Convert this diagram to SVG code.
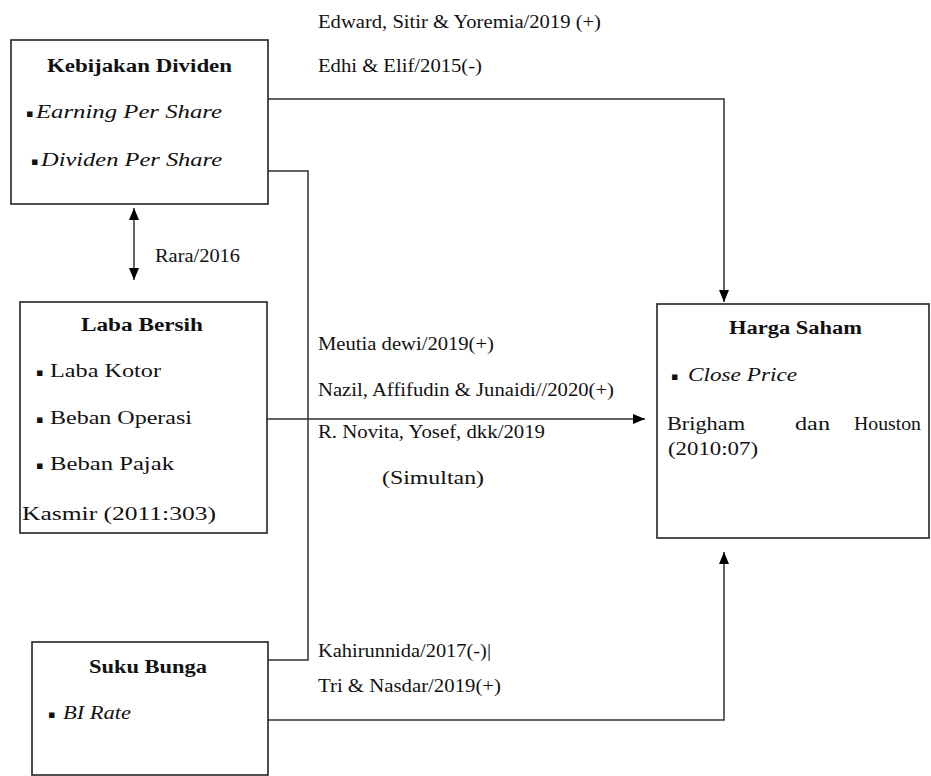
<svg xmlns="http://www.w3.org/2000/svg" width="931" height="776" viewBox="0 0 931 776">
<defs>
<marker id="ah" viewBox="0 0 12 10" refX="12" refY="5" markerWidth="12" markerHeight="10" markerUnits="userSpaceOnUse" orient="auto-start-reverse">
<path d="M0,0 L12,5 L0,10 Z" fill="#000"/>
</marker>
</defs>
<style>
.box{fill:#fff;stroke:#222;stroke-width:1.6}
.t{font-family:"Liberation Serif","Times New Roman",serif;font-size:18px;fill:#111}
.big{font-size:19px}
.b{font-weight:bold}
.i{font-style:italic}
.bul{font-family:"DejaVu Sans",sans-serif;font-size:11px;fill:#111}
.c{fill:none;stroke:#333;stroke-width:1.5}
</style>
<rect width="931" height="776" fill="#fff"/>
<g id="connectors">
<path class="c" d="M268,99 H724 V302" marker-end="url(#ah)"/>
<path class="c" d="M268,171 H308 V660 H268"/>
<path class="c" d="M267,419 H645" marker-end="url(#ah)"/>
<path class="c" d="M268,720 H724 V552" marker-end="url(#ah)"/>
<path class="c" d="M134,208 V280" marker-start="url(#ah)" marker-end="url(#ah)"/>
</g>
<g id="kebijakan-dividen">
<rect class="box" x="11" y="40" width="257" height="164"/>
<text class="t b" x="47" y="72" textLength="185" lengthAdjust="spacingAndGlyphs">Kebijakan Dividen</text>
<text class="bul" x="26" y="117">▪</text>
<text class="t i" x="36" y="118" textLength="186" lengthAdjust="spacingAndGlyphs">Earning Per Share</text>
<text class="bul" x="31" y="165">▪</text>
<text class="t i" x="41" y="166" textLength="181" lengthAdjust="spacingAndGlyphs">Dividen  Per Share</text>
</g>
<g id="laba-bersih">
<rect class="box" x="20" y="302" width="247" height="231"/>
<text class="t b" x="81" y="331" textLength="122" lengthAdjust="spacingAndGlyphs">Laba Bersih</text>
<text class="bul" x="36" y="376">▪</text>
<text class="t" x="50" y="377" textLength="111" lengthAdjust="spacingAndGlyphs">Laba Kotor</text>
<text class="bul" x="36" y="423">▪</text>
<text class="t" x="50" y="424" textLength="142" lengthAdjust="spacingAndGlyphs">Beban Operasi</text>
<text class="bul" x="36" y="469">▪</text>
<text class="t" x="50" y="470" textLength="124" lengthAdjust="spacingAndGlyphs">Beban Pajak</text>
<text class="t" x="22" y="520" textLength="194" lengthAdjust="spacingAndGlyphs">Kasmir (2011:303)</text>
</g>
<g id="harga-saham">
<rect class="box" x="657" y="304" width="272" height="234"/>
<text class="t b" x="729" y="334" textLength="133" lengthAdjust="spacingAndGlyphs">Harga Saham</text>
<text class="bul" x="671" y="380">▪</text>
<text class="t i" x="688" y="381" textLength="109" lengthAdjust="spacingAndGlyphs">Close Price</text>
<text class="t big" x="667" y="430" textLength="78" lengthAdjust="spacingAndGlyphs">Brigham</text>
<text class="t big" x="795" y="430" textLength="35" lengthAdjust="spacingAndGlyphs">dan</text>
<text class="t big" x="854" y="430" textLength="67" lengthAdjust="spacingAndGlyphs">Houston</text>
<text class="t" x="668" y="455" textLength="90" lengthAdjust="spacingAndGlyphs">(2010:07)</text>
</g>
<g id="suku-bunga">
<rect class="box" x="32" y="642" width="236" height="133"/>
<text class="t b" x="89" y="673" textLength="118" lengthAdjust="spacingAndGlyphs">Suku Bunga</text>
<text class="bul" x="48" y="718">▪</text>
<text class="t i" x="63" y="719" textLength="68" lengthAdjust="spacingAndGlyphs">BI Rate</text>
</g>
<g id="labels">
<text class="t" x="318" y="28" textLength="283" lengthAdjust="spacingAndGlyphs">Edward, Sitir &amp; Yoremia/2019 (+)</text>
<text class="t" x="318" y="72" textLength="164" lengthAdjust="spacingAndGlyphs">Edhi &amp; Elif/2015(-)</text>
<text class="t" x="155" y="262" textLength="85" lengthAdjust="spacingAndGlyphs">Rara/2016</text>
<text class="t" x="318" y="350" textLength="176" lengthAdjust="spacingAndGlyphs">Meutia dewi/2019(+)</text>
<text class="t" x="318" y="396" textLength="296" lengthAdjust="spacingAndGlyphs">Nazil, Affifudin &amp; Junaidi//2020(+)</text>
<text class="t" x="318" y="438" textLength="227" lengthAdjust="spacingAndGlyphs">R. Novita, Yosef, dkk/2019</text>
<text class="t" x="382" y="484" textLength="102" lengthAdjust="spacingAndGlyphs">(Simultan)</text>
<text class="t" x="318" y="657" textLength="173" lengthAdjust="spacingAndGlyphs">Kahirunnida/2017(-)|</text>
<text class="t" x="318" y="692" textLength="183" lengthAdjust="spacingAndGlyphs">Tri &amp; Nasdar/2019(+)</text>
</g>
</svg>
